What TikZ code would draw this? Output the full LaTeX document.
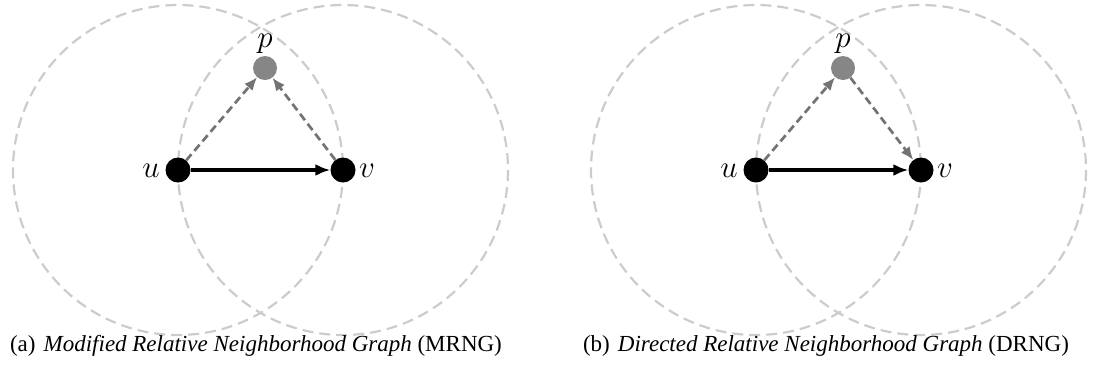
\documentclass[tikz,border=0pt]{standalone}
\usepackage{graphicx}
\usepackage{fontspec}
\setmainfont{Liberation Serif}
\usetikzlibrary{arrows.meta}
\newcommand{\biglbl}[1]{\scalebox{1.25}{\fontsize{24.88}{30}\selectfont$#1$}}
\begin{document}
\begin{tikzpicture}[x=1pt,y=-1pt,
  vtx/.style={circle,fill=black,inner sep=0pt,minimum size=25pt},
  pvtx/.style={circle,fill=gray!95,inner sep=0pt,minimum size=24pt},
  ring/.style={draw=black!20,line width=2.2pt,dash pattern=on 11pt off 6pt},
  mainedge/.style={draw=black,line width=3.2pt,-{Latex[length=15pt,width=12pt]}},
  grayedge/.style={draw=black!55,line width=2.7pt,dash pattern=on 8pt off 4.5pt,-{Latex[length=13pt,width=11pt]}},
  lbl/.style={inner sep=0pt},
  captxt/.style={inner sep=0pt,anchor=base,font=\fontsize{23}{27}\selectfont}]
\useasboundingbox (0,0) rectangle (1094,368);
% panel a
\draw[ring] (178,170) circle (165);
\draw[ring] (343,170) circle (165);
\node[vtx] (ua) at (178,170) {};
\node[vtx] (va) at (343,170) {};
\node[pvtx] (pa) at (265,68) {};
\node[lbl,anchor=east] (lua) at (160,171) {\biglbl{u}};
\node[lbl,anchor=west] (lva) at (359,171) {\biglbl{v}};
\node[lbl,anchor=south] (lpa) at (265,54) {\biglbl{p}};
\draw[mainedge] (ua) -- (va);
\draw[grayedge] (ua) -- (pa);
\draw[grayedge] (va) -- (pa);
\node[captxt] (capa) at (256,351) {(a)\hspace{0.35em}\textit{Modified Relative Neighborhood Graph} (MRNG)};
% panel b
\draw[ring] (756,170) circle (165);
\draw[ring] (921,170) circle (165);
\node[vtx] (ub) at (756,170) {};
\node[vtx] (vb) at (921,170) {};
\node[pvtx] (pb) at (843,68) {};
\node[lbl,anchor=east] (lub) at (738,171) {\biglbl{u}};
\node[lbl,anchor=west] (lvb) at (937,171) {\biglbl{v}};
\node[lbl,anchor=south] (lpb) at (843,54) {\biglbl{p}};
\draw[mainedge] (ub) -- (vb);
\draw[grayedge] (ub) -- (pb);
\draw[grayedge] (pb) -- (vb);
\node[captxt] (capb) at (826,351) {(b)\hspace{0.35em}\textit{Directed Relative Neighborhood Graph} (DRNG)};
\end{tikzpicture}
\end{document}
